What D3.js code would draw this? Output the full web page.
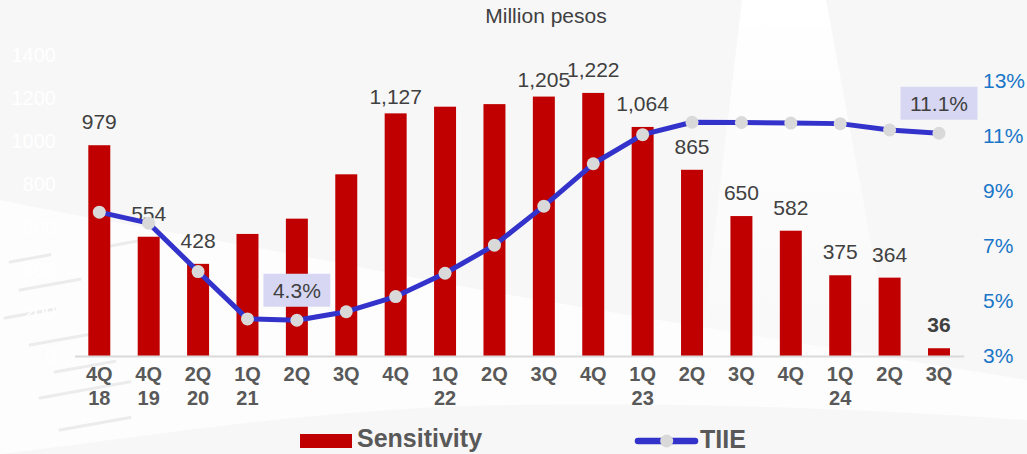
<!DOCTYPE html>
<html>
<head>
<meta charset="utf-8">
<script src="https://cdn.jsdelivr.net/npm/d3@7"></script>
<style>
  html, body { margin: 0; padding: 0; background: #f7f7f7; }
  svg { display: block; font-family: "Liberation Sans", Arial, sans-serif; }
</style>
</head>
<body>
<script>
// Quarterly interest-rate sensitivity (million pesos) against the TIIE rate
const categories = ["4Q18","4Q19","2Q20","1Q21","2Q21","3Q21","4Q21","1Q22","2Q22",
                    "3Q22","4Q22","1Q23","2Q23","3Q23","4Q23","1Q24","2Q24","3Q24"];
const quarterLabels = ["4Q","4Q","2Q","1Q","2Q","3Q","4Q","1Q","2Q","3Q","4Q","1Q","2Q","3Q","4Q","1Q","2Q","3Q"];
const yearLabels = ["18","19","20","21","","","","22","","","","23","","","","24","",""];
const sensitivity = [979,554,428,567,638,844,1127,1158,1170,1205,1222,1064,865,650,582,375,364,36];
const sensitivityLabels = ["979","554","428",null,null,null,"1,127",null,null,"1,205","1,222","1,064","865","650","582","375","364","36"];
const tiie = [8.23,7.83,6.07,4.35,4.3,4.61,5.16,6.01,7.03,8.45,9.99,11.05,11.5,11.49,11.47,11.45,11.22,11.1];
const tiieCallouts = [null,null,null,null,"4.3%",null,null,null,null,null,null,null,null,null,null,null,null,"11.1%"];
const leftTicks = [0,200,400,600,800,1000,1200,1400];
const rightTicks = [3,5,7,9,11,13];

const W = 1027, H = 454;
const baseY = 356;
const RED = "#c00000", BLUE = "#3333cc", MARK = "#d9d9d9", TEXT = "#404040", AXIS_TEXT = "#595959";

const svg = d3.select("body").append("svg").attr("width", W).attr("height", H);

// decorative backdrop
const bg = svg.append("g");
bg.append("rect").attr("width", W).attr("height", H).attr("fill", "#f7f7f7");
const defs = svg.append("defs");
const fade = defs.append("linearGradient").attr("id", "fade").attr("x1", 0).attr("y1", 0).attr("x2", 0).attr("y2", 1);
fade.append("stop").attr("offset", "0%").attr("stop-color", "#fff").attr("stop-opacity", 1);
fade.append("stop").attr("offset", "100%").attr("stop-color", "#fff").attr("stop-opacity", 0.2);
bg.append("path").attr("d", "M742,0 L826,0 L892,356 L700,356 Z").attr("fill", "url(#fade)");
bg.append("path")
  .attr("d", "M0,200 C120,225 250,245 400,275 C560,305 720,330 880,356 L1027,380 L1027,420 C800,405 600,400 420,408 C250,418 120,440 0,454 Z")
  .attr("fill", "#fdfdfd");
const streaks = [[10,262,40],[20,290,60],[5,318,50],[30,345,70],[55,372,60],[40,398,90],[60,430,70],[110,246,30]];
bg.selectAll("line.streak").data(streaks).join("line")
  .attr("x1", d => d[0]).attr("y1", d => d[1])
  .attr("x2", d => d[0] + d[2]).attr("y2", d => d[1] - d[2] * 0.18)
  .attr("stroke", "#ececec").attr("stroke-width", 3).attr("stroke-linecap", "round");

// scales
const x = d3.scaleBand().domain(categories).range([74.6, 963.7]).paddingInner(0.555).paddingOuter(0.2775);
const cx = c => x(c) + x.bandwidth() / 2;
const yL = d3.scaleLinear().domain([0, 1400]).range([baseY, 54.6]);
const yR = d3.scaleLinear().domain([3, 13]).range([baseY, 81]);

// title
svg.append("text").attr("x", 546).attr("y", 23).attr("text-anchor", "middle")
  .attr("font-size", 21).attr("fill", TEXT).text("Million pesos");

// left axis (white labels)
const gl = svg.append("g").attr("transform", "translate(56,0)")
  .call(d3.axisLeft(yL).tickValues(leftTicks).tickSize(0).tickPadding(0).tickFormat(d3.format("d")));
gl.select(".domain").remove();
gl.selectAll("text").attr("fill", "#ffffff").attr("font-size", 20).attr("font-family", null);

// right axis
const gr = svg.append("g").attr("transform", "translate(983,0)")
  .call(d3.axisRight(yR).tickValues(rightTicks).tickSize(0).tickPadding(0).tickFormat(d => d + "%"));
gr.select(".domain").remove();
gr.selectAll("text").attr("fill", "#1976c8").attr("font-size", 21).attr("font-family", null);

// bars
svg.append("g").selectAll("rect").data(categories).join("rect")
  .attr("x", c => x(c)).attr("width", x.bandwidth())
  .attr("y", (c, i) => yL(sensitivity[i]))
  .attr("height", (c, i) => baseY - yL(sensitivity[i]))
  .attr("fill", RED);

// bottom axis with two-line labels
const gb = svg.append("g").attr("transform", `translate(0,${baseY})`)
  .call(d3.axisBottom(x).tickSize(0).tickSizeOuter(0).tickFormat((d, i) => quarterLabels[i]));
gb.select(".domain").attr("stroke", "#d9d9d9").attr("stroke-width", 2);
gb.selectAll(".tick text").attr("y", 25).attr("dy", null)
  .attr("font-size", 20).attr("font-weight", "bold").attr("fill", AXIS_TEXT).attr("font-family", null);
gb.selectAll(".tick").each(function (d, i) {
  d3.select(this).append("text").attr("y", 49).attr("text-anchor", "middle")
    .attr("font-size", 20).attr("font-weight", "bold").attr("fill", AXIS_TEXT)
    .text(yearLabels[i]);
});

// value labels above bars
const labelNudge = { "4Q21": 7, "3Q22": 6 };
const emphasized = new Set(["3Q24"]);
svg.append("g").selectAll("text").data(categories.filter((c, i) => sensitivityLabels[i] !== null)).join("text")
  .attr("x", c => cx(c))
  .attr("y", c => yL(sensitivity[categories.indexOf(c)]) - 16 + (labelNudge[c] || 0))
  .attr("text-anchor", "middle").attr("font-size", 21)
  .attr("font-weight", c => emphasized.has(c) ? "bold" : "normal")
  .attr("fill", TEXT)
  .text(c => sensitivityLabels[categories.indexOf(c)]);

// TIIE line
const line = d3.line().x((v, i) => cx(categories[i])).y(v => yR(v));
svg.append("path").datum(tiie).attr("d", line)
  .attr("fill", "none").attr("stroke", BLUE).attr("stroke-width", 5)
  .attr("stroke-linejoin", "round");
svg.append("g").selectAll("circle").data(tiie).join("circle")
  .attr("cx", (v, i) => cx(categories[i])).attr("cy", v => yR(v))
  .attr("r", 6.5).attr("fill", MARK);

// boxed rate callouts
const gc = svg.append("g");
tiie.forEach((v, i) => {
  if (!tiieCallouts[i]) return;
  const px = cx(categories[i]), py = yR(v) - 30;
  const g = gc.append("g");
  const rect = g.append("rect").attr("fill", "#d7d7f4");
  const t = g.append("text").attr("x", px).attr("y", py + 7.5).attr("text-anchor", "middle")
    .attr("font-size", 21).attr("fill", TEXT).text(tiieCallouts[i]);
  const w = t.node().getComputedTextLength() + 19;
  rect.attr("x", px - w / 2).attr("y", py - 16.5).attr("width", w).attr("height", 33);
});

// legend
const lg = svg.append("g");
lg.append("rect").attr("x", 300).attr("y", 434).attr("width", 52).attr("height", 14).attr("fill", RED);
lg.append("text").attr("x", 357).attr("y", 447).attr("font-size", 25).attr("font-weight", "bold")
  .attr("fill", AXIS_TEXT).text("Sensitivity");
lg.append("line").attr("x1", 638).attr("x2", 695).attr("y1", 441).attr("y2", 441)
  .attr("stroke", BLUE).attr("stroke-width", 6.5).attr("stroke-linecap", "round");
lg.append("circle").attr("cx", 666.7).attr("cy", 441).attr("r", 6.5).attr("fill", MARK);
lg.append("text").attr("x", 700).attr("y", 448).attr("font-size", 25).attr("font-weight", "bold")
  .attr("fill", AXIS_TEXT).text("TIIE");
</script>
</body>
</html>
